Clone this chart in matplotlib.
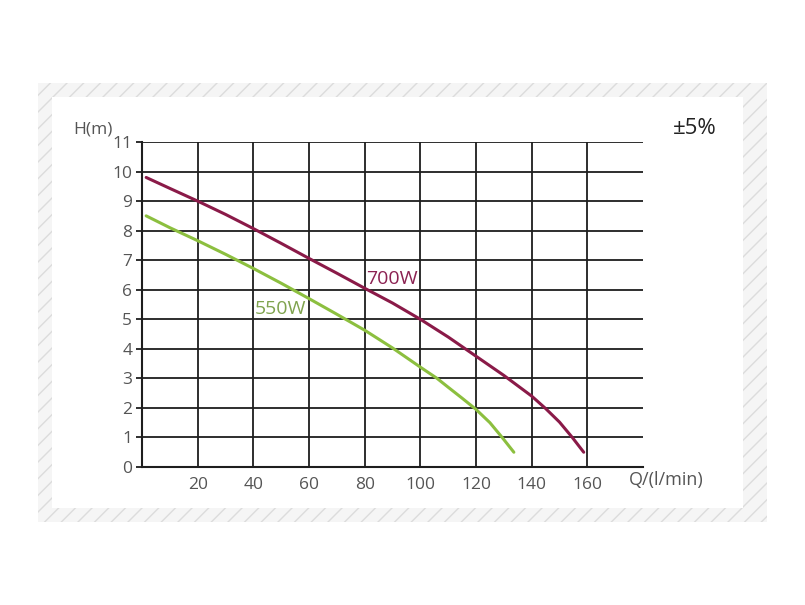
import matplotlib
matplotlib.use("Agg")
import matplotlib.pyplot as plt
from matplotlib.patches import Rectangle

# pump curves: flow Q (l/min) vs head H (m)
q_700 = [1.5, 10, 20, 30, 40, 50, 60, 70, 80, 90, 100, 110, 120, 130, 140, 145, 150, 154.6, 158.7]
h_700 = [9.8, 9.43, 9.0, 8.55, 8.07, 7.57, 7.06, 6.56, 6.05, 5.55, 5.0, 4.4, 3.75, 3.1, 2.4, 1.98, 1.52, 1.0, 0.5]

q_550 = [1.5, 10, 20, 30, 40, 50, 60, 70, 80, 90, 100, 106, 110, 115, 120, 125, 129.4, 133.6]
h_550 = [8.5, 8.1, 7.66, 7.2, 6.72, 6.22, 5.7, 5.17, 4.63, 4.03, 3.38, 3.0, 2.7, 2.33, 1.95, 1.5, 1.0, 0.5]

x_ticks = [20, 40, 60, 80, 100, 120, 140, 160]
y_ticks = list(range(0, 12))

plt.rcParams['font.family'] = ['Open Sans', 'DejaVu Sans']

W, H = 805, 605
fig = plt.figure(figsize=(W / 100, H / 100), dpi=100)
fig.patch.set_facecolor('white')

# hatched frame around the white card
def px_rect(x0, y0, x1, y1, **kw):
    return Rectangle((x0 / W, 1 - y1 / H), (x1 - x0) / W, (y1 - y0) / H,
                     transform=fig.transFigure, **kw)

plt.rcParams['hatch.linewidth'] = 1.0
fig.patches.append(px_rect(38, 83, 767, 522, facecolor='#f5f5f5', edgecolor='#dcdcdc',
                           hatch='//', linewidth=0, zorder=0))
fig.patches.append(px_rect(52, 97, 743, 508, facecolor='white', edgecolor='none', zorder=1))

ax = fig.add_axes([142 / W, 1 - 467 / H, (643 - 142) / W, (467 - 142) / H])
ax.set_facecolor('none')
ax.set_zorder(2)

ax.plot(q_700, h_700, color='#8a1a48', lw=2.2, solid_capstyle='round', zorder=3)
ax.plot(q_550, h_550, color='#8cbf3f', lw=2.2, solid_capstyle='round', zorder=3)

ax.text(80.5, 6.36, '700W', color='#8b2252', fontsize=14, va='center', ha='left', zorder=4)
ax.text(40.5, 5.34, '550W', color='#7fa34e', fontsize=14, va='center', ha='left', zorder=4)

ax.set_xlim(0, 180)
ax.set_ylim(0, 11)
ax.set_xticks(x_ticks)
ax.set_yticks(y_ticks)
ax.grid(True, color='#1e1e1e', lw=1.3)
ax.set_axisbelow(True)
for s in ['top', 'right']:
    ax.spines[s].set_visible(False)
for s in ['left', 'bottom']:
    ax.spines[s].set_color('#1e1e1e')
    ax.spines[s].set_linewidth(1.5)
ax.tick_params(axis='x', length=0, pad=7, labelsize=12.5, labelcolor='#555555')
ax.tick_params(axis='y', length=4, width=1.3, color='#1e1e1e', pad=3,
               labelsize=12.5, labelcolor='#555555')

fig.text(93 / W, 1 - 130 / H, 'H(m)', color='#555555', fontsize=12.5, ha='center', va='center')
fig.text(666 / W, 1 - 480 / H, 'Q/(l/min)', color='#555555', fontsize=13, ha='center', va='center')
fig.text(695 / W, 1 - 128 / H, '±5%', color='#222222', fontsize=16, ha='center', va='center')

fig.savefig('out.png', dpi=100)
